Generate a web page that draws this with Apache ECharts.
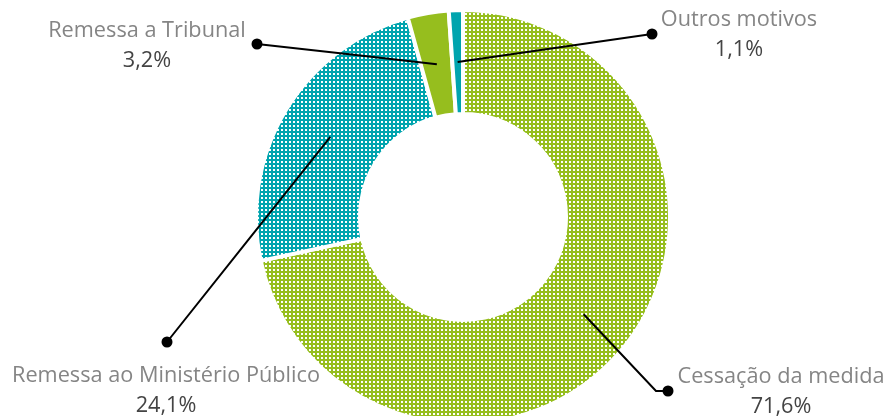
<!DOCTYPE html>
<html>
<head>
<meta charset="utf-8">
<script src="https://cdn.jsdelivr.net/npm/echarts@6/dist/echarts.min.js"></script>
<style>
    html, body { margin: 0; padding: 0; background: #fff; }
    #chart { width: 886px; height: 416px; }
</style>
</head>
<body>
<div id="chart"></div>
<script>
    // data
    const categories = ['Cessação da medida', 'Remessa ao Ministério Público', 'Remessa a Tribunal', 'Outros motivos']
    const shares = [71.6, 24.1, 3.2, 1.1]

    // layout of the labels (text centre, dot centre)
    const textPos = [[781, 392], [166, 391], [147, 46], [739, 35]]
    const dotPos = [[668, 391], [167, 342], [257, 44], [652, 34]]

    const GREEN = '#96be1e'
    const TEAL = '#00a4ae'

    function dotted(color) {
        const c = document.createElement('canvas')
        c.width = 4
        c.height = 4
        const ctx = c.getContext('2d')
        ctx.fillStyle = color
        ctx.fillRect(0, 0, 4, 4)
        ctx.fillStyle = '#fff'
        ctx.fillRect(1, 1, 2, 2)
        return { image: c, repeat: 'repeat' }
    }

    const fills = [dotted(GREEN), dotted(TEAL), GREEN, TEAL]

    const chart = echarts.init(document.getElementById('chart'))

    const option = {
        animation: false,
        series: [
            {
                name: 'main',
                type: 'pie',
                z: 2,
                center: [463, 217],
                radius: [103, 207],
                startAngle: 90,
                clockwise: true,
                avoidLabelOverlap: false,
                silent: true,
                itemStyle: {
                    borderColor: '#fff',
                    borderWidth: 4
                },
                label: {
                    show: true,
                    position: 'outside',
                    formatter: function (p) {
                        return '{n|' + p.name + '}\n{v|' + String(p.value).replace('.', ',') + '%}'
                    },
                    rich: {
                        n: { fontFamily: 'Open Sans', fontSize: 21.7, color: '#858585', lineHeight: 30, align: 'center' },
                        v: { fontFamily: 'Open Sans', fontSize: 21.7, color: '#444', lineHeight: 30, align: 'center' }
                    }
                },
                labelLine: { show: false },
                labelLayout: function (p) {
                    const t = textPos[p.dataIndex]
                    return { x: t[0], y: t[1], align: 'center', verticalAlign: 'middle' }
                },
                data: categories.map((name, i) => ({
                    name: name,
                    value: shares[i],
                    itemStyle: { color: fills[i] }
                }))
            },
            {
                // transparent disc used only for leader lines + dots
                name: 'leaders',
                type: 'pie',
                z: 5,
                center: [463, 217],
                radius: [0, 155],
                startAngle: 90,
                clockwise: true,
                avoidLabelOverlap: false,
                silent: true,
                itemStyle: { color: 'rgba(0,0,0,0)' },
                label: {
                    show: true,
                    position: 'outside',
                    formatter: '{d| }',
                    rich: {
                        d: { width: 11, height: 11, borderRadius: 6, backgroundColor: '#000', fontSize: 1, lineHeight: 11 }
                    }
                },
                labelLine: {
                    show: true,
                    lineStyle: { color: '#000', width: 2 }
                },
                labelLayout: function (p) {
                    const d = dotPos[p.dataIndex]
                    const res = { x: d[0], y: d[1], align: 'center', verticalAlign: 'middle' }
                    if (p.labelLinePoints) {
                        const s = p.labelLinePoints[0]
                        let mid = [(s[0] + d[0]) / 2, (s[1] + d[1]) / 2]
                        if (p.dataIndex === 0) mid = [d[0] - 12, d[1]]
                        res.labelLinePoints = [s, mid, d]
                    }
                    return res
                },
                data: categories.map((name, i) => ({ name: name, value: shares[i] }))
            }
        ]
    }

    chart.setOption(option)
</script>
</body>
</html>
